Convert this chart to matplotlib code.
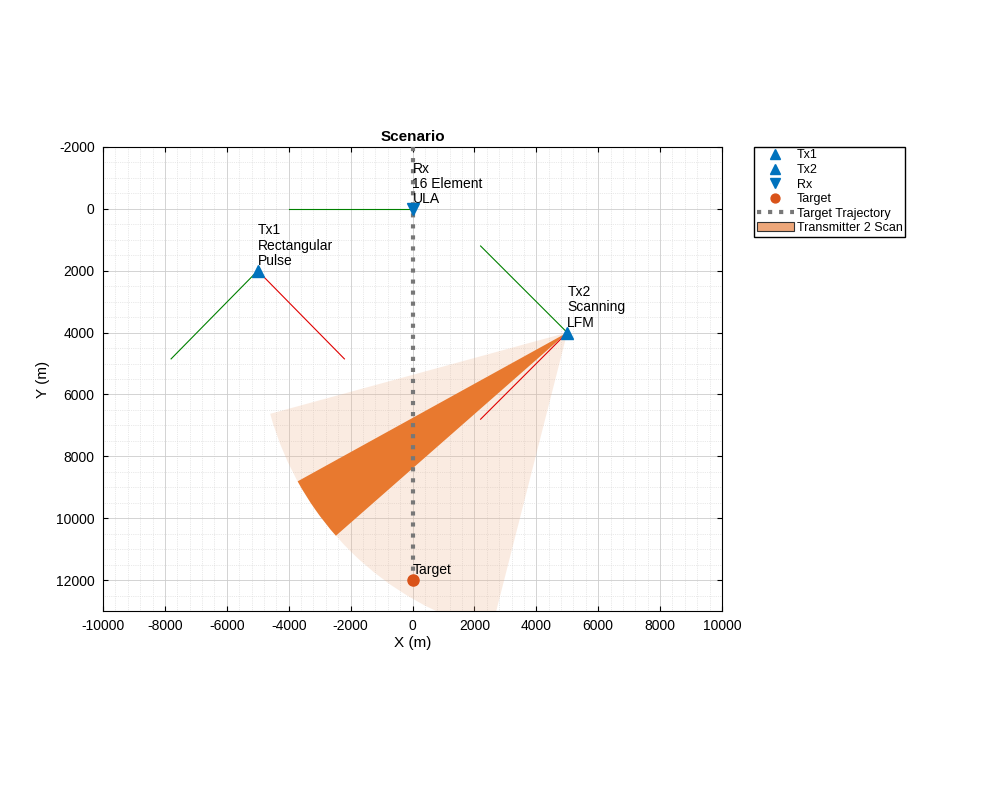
import matplotlib.pyplot as plt
import numpy as np
from matplotlib.patches import Wedge
from matplotlib.ticker import MultipleLocator, AutoMinorLocator

plt.rcParams['font.family'] = ['Liberation Sans', 'DejaVu Sans']
plt.rcParams['axes.unicode_minus'] = False

# positions (m)
tx1 = [-5000, 2000]
tx2 = [5000, 4000]
rx = [0, 0]
target = [0, 12000]
traj_x = [0, 0]
traj_y = [-2000, 12000]

# direction lines: (x0, y0, x1, y1)
green_lines = [(-5000, 2000, -7800, 4850), (-4000, 0, 0, 0), (2200, 1200, 5000, 4000)]
red_lines = [(-5000, 2000, -2200, 4850), (5000, 4000, 2200, 6800)]

# scan wedge angles (deg) and radius
scan_r = 9950
scan_full = (104.3, 164.7)
scan_beam = (138.7, 151.1)

blue = '#0072BD'
orange = '#D95319'

fig = plt.figure(figsize=(9.83, 7.86), dpi=100)
ax = fig.add_axes([103/983, 1-611/786, 619/983, 464/786])

ax.add_patch(Wedge(tx2, scan_r, *scan_full, color='#EDB18A', alpha=0.25, lw=0))
ax.add_patch(Wedge(tx2, scan_r, *scan_beam, color='#E8792F', alpha=1, lw=0))

for x0, y0, x1, y1 in green_lines:
    ax.plot([x0, x1], [y0, y1], color='#008000', lw=0.8)
for x0, y0, x1, y1 in red_lines:
    ax.plot([x0, x1], [y0, y1], color='#E00000', lw=0.8)

ax.plot(traj_x, traj_y, ':', color='#777777', lw=3, label='Target Trajectory', zorder=3)
ax.plot(*tx1, '^', color=blue, ms=9, label='Tx1', zorder=4)
ax.plot(*tx2, '^', color=blue, ms=9, label='Tx2', zorder=4)
ax.plot(*rx, 'v', color=blue, ms=9, label='Rx', zorder=4)
ax.plot(*target, 'o', color=orange, ms=8, label='Target', zorder=4)
scan_proxy = plt.Rectangle((0, 0), 1, 1, fc='#EDA77A', ec='#333333', lw=0.8)

for pos, txt in [(tx1, 'Tx1\nRectangular\nPulse'), (tx2, 'Tx2\nScanning\nLFM'),
                 (rx, 'Rx\n16 Element\nULA'), (target, 'Target')]:
    ax.text(pos[0], pos[1] - 100, txt, fontsize=10, va='bottom', linespacing=1.1)

ax.set_xlim(-10000, 10000)
ax.set_ylim(13000, -2000)
ax.xaxis.set_major_locator(MultipleLocator(2000))
ax.yaxis.set_major_locator(MultipleLocator(2000))
ax.xaxis.set_minor_locator(AutoMinorLocator(5))
ax.yaxis.set_minor_locator(AutoMinorLocator(4))
ax.grid(True, which='major', color='#cccccc', lw=0.6)
ax.grid(True, which='minor', color='#d5d5d5', lw=0.5, ls=':')
ax.tick_params(which='both', direction='in', top=True, right=True, labelsize=10, pad=6)
ax.tick_params(which='minor', length=0)
ax.set_axisbelow(True)
ax.set_xlabel('X (m)', fontsize=11, labelpad=2)
ax.set_ylabel('Y (m)', fontsize=11)
ax.set_title('Scenario', fontweight='bold', fontsize=11, pad=4)

h, l = ax.get_legend_handles_labels()
order = ['Tx1', 'Tx2', 'Rx', 'Target', 'Target Trajectory']
hs = [h[l.index(o)] for o in order] + [scan_proxy]
ax.legend(hs, order + ['Transmitter 2 Scan'], loc='upper left', bbox_to_anchor=(1.052, 1.0),
          fontsize=9, frameon=True, fancybox=False, edgecolor='black', numpoints=1,
          markerscale=0.8, labelspacing=0.2, borderpad=0.2, handlelength=3.0,
          handletextpad=0.2, borderaxespad=0, framealpha=1)

fig.savefig('out.png', dpi=100)
